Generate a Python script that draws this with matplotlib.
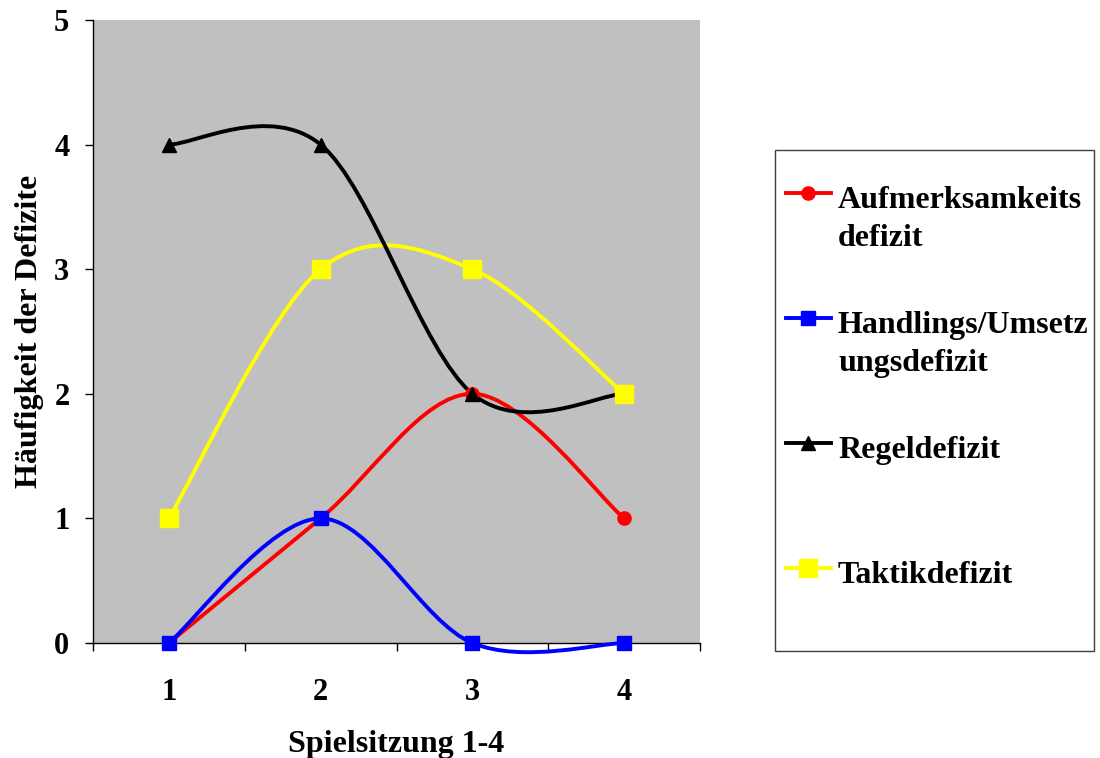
import numpy as np
import matplotlib.pyplot as plt
from matplotlib.path import Path
from matplotlib.patches import PathPatch, Rectangle
from matplotlib.lines import Line2D

#%% data
sessions = [1, 2, 3, 4]
aufmerksamkeit = [0, 1, 2, 1]
handlung = [0, 1, 0, 0]
regel = [4, 4, 2, 2]
taktik = [1, 3, 3, 2]

labels = ['Aufmerksamkeits\ndefizit', 'Handlings/Umsetz\nungsdefizit', 'Regeldefizit', 'Taktikdefizit']

styles = [
    dict(color='#FF0000', marker='o', ms=9.5),
    dict(color='#0000FF', marker='s', ms=9.5),
    dict(color='#000000', marker='^', ms=10.5),
    dict(color='#FFFF00', marker='s', ms=13.5),
]
# lines are layered red, blue, yellow, black; markers in series order on top
line_z = [3, 3.1, 3.3, 3.2]

plt.rcParams['font.family'] = ['Liberation Serif', 'DejaVu Serif']
plt.rcParams['font.weight'] = 'bold'


def smooth_path(x, y):
    # Bezier path through the points, control points like Excel's smoothed lines
    p = np.column_stack([x, y]).astype(float)
    n = len(p)
    verts = [p[0]]
    codes = [Path.MOVETO]
    for i in range(n - 1):
        prev = p[i - 1] if i > 0 else p[i]
        nxt = p[i + 2] if i + 2 < n else p[i + 1]
        c1 = p[i] + (p[i + 1] - prev) / 6
        c2 = p[i + 1] - (nxt - p[i]) / 6
        verts += [c1, c2, p[i + 1]]
        codes += [Path.CURVE4] * 3
    return Path(verts, codes)


fig = plt.figure(figsize=(11, 7.58), dpi=100)
ax = fig.add_axes([93 / 1100, 1 - 643 / 758, 607 / 1100, 623 / 758])
ax.set_facecolor('#C0C0C0')

series = [aufmerksamkeit, handlung, regel, taktik]
for yv, st, z in zip(series, styles, line_z):
    patch = PathPatch(smooth_path(sessions, yv), facecolor='none', edgecolor=st['color'],
                      lw=2.8, clip_on=False, zorder=z)
    ax.add_patch(patch)
for k, (yv, st) in enumerate(zip(series, styles)):
    ax.plot(sessions, yv, ls='none', marker=st['marker'], ms=st['ms'], color=st['color'],
            clip_on=False, zorder=4 + k * 0.1)

ax.set_xlim(0.5, 4.5)
ax.set_ylim(0, 5)
ax.set_xticks([0.5, 1.5, 2.5, 3.5, 4.5])
ax.set_xticklabels([])
ax.set_xticks(sessions, minor=True)
ax.set_xticklabels([str(s) for s in sessions], minor=True, fontsize=22, fontweight='bold')
ax.tick_params(axis='x', which='minor', length=0, pad=25)
ax.tick_params(axis='x', which='major', direction='out', length=6, width=1)
ax.set_yticks(range(6))
ax.set_yticklabels([str(v) for v in range(6)], fontsize=22, fontweight='bold')
ax.tick_params(axis='y', direction='out', length=6, width=1, pad=11)
for s in ['top', 'right']:
    ax.spines[s].set_visible(False)
for s in ['left', 'bottom']:
    ax.spines[s].set_linewidth(1)
    ax.spines[s].set_zorder(2)

ax.set_xlabel('Spielsitzung 1-4', fontsize=23, fontweight='bold', labelpad=17)
ax.set_ylabel('Häufigkeit der Defizite', fontsize=23, fontweight='bold', labelpad=7)

# legend box
lax = fig.add_axes([775 / 1100, 1 - 651 / 758, 319 / 1100, 501 / 758])
lax.set_xlim(775, 1094)
lax.set_ylim(651, 150)
lax.axis('off')
lax.add_patch(Rectangle((775, 150), 319, 501, facecolor='white', edgecolor='#404040',
                        lw=1, clip_on=False))
rows = [193, 318, 443, 568]
for yr, lab, st in zip(rows, labels, styles):
    lax.add_line(Line2D([786, 831], [yr, yr], color=st['color'], lw=2.8))
    lax.plot([808], [yr], ls='none', marker=st['marker'], color=st['color'], ms=st['ms'])
    for j, part in enumerate(lab.split('\n')):
        lax.text(838, yr + 15 + j * 38, part, fontsize=23, fontweight='bold',
                 va='baseline', ha='left')

fig.savefig('out.png', dpi=100)
